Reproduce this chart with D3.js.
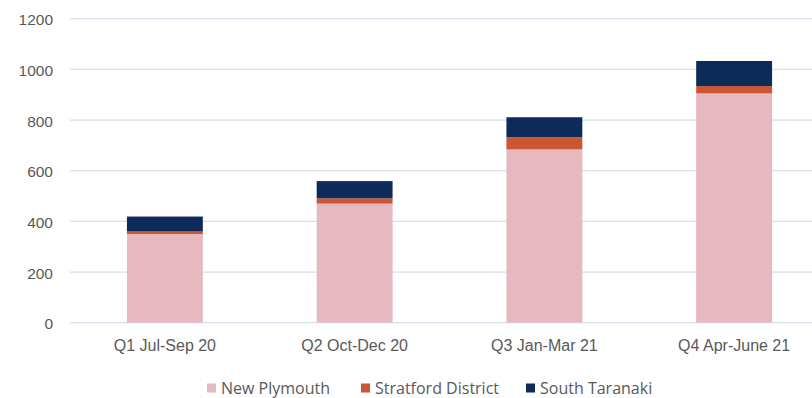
<!DOCTYPE html>
<html>
<head>
<meta charset="utf-8">
<script src="https://cdn.jsdelivr.net/npm/d3@7"></script>
<style>
  html, body { margin: 0; padding: 0; background: #fff; }
  svg { display: block; font-family: "Open Sans", "Noto Sans", sans-serif; }
</style>
</head>
<body>
<svg id="chart" width="812" height="398"></svg>
<script>
// Quarterly counts by district
const quarters = ["Q1 Jul-Sep 20", "Q2 Oct-Dec 20", "Q3 Jan-Mar 21", "Q4 Apr-June 21"];
const newPlymouth = [350, 470, 684, 905];
const stratford = [10, 21, 48, 29];
const southTaranaki = [59, 68, 79, 99];
const seriesNames = ["New Plymouth", "Stratford District", "South Taranaki"];
const seriesColors = ["#e5b9bf", "#cc5533", "#0c2b5b"];
const yTicks = [0, 200, 400, 600, 800, 1000, 1200];

const svg = d3.select("#chart");
const W = 812, H = 398;
const textColor = "#595959";

const x = d3.scaleBand().domain(quarters).range([70, 829]).paddingInner(0.6).paddingOuter(0.3);
const y = d3.scaleLinear().domain([0, 1200]).range([322.7, 18.7]);

// gridlines
svg.append("g")
  .selectAll("line")
  .data(yTicks)
  .join("line")
  .attr("x1", 70).attr("x2", W)
  .attr("y1", d => y(d)).attr("y2", d => y(d))
  .attr("stroke", "#d5dfea").attr("stroke-width", 1.3);

// y axis labels
const yAxis = d3.axisLeft(y).tickValues(yTicks).tickSize(0).tickPadding(0).tickFormat(d3.format("d"));
const gy = svg.append("g").attr("transform", "translate(53,1)").call(yAxis);
gy.select(".domain").remove();
gy.selectAll("text").attr("fill", textColor).style("font-size", "15.5px");

// stacked bars
const rows = quarters.map((q, i) => ({ q, a: newPlymouth[i], b: stratford[i], c: southTaranaki[i] }));
const stack = d3.stack().keys(["a", "b", "c"]);
const layers = stack(rows);

svg.append("g")
  .selectAll("g")
  .data(layers)
  .join("g")
  .attr("fill", (d, i) => seriesColors[i])
  .selectAll("rect")
  .data(d => d)
  .join("rect")
  .attr("x", d => x(d.data.q))
  .attr("width", x.bandwidth())
  .attr("y", d => y(d[1]))
  .attr("height", d => y(d[0]) - y(d[1]));

// x axis labels
const xAxis = d3.axisBottom(x).tickSize(0).tickPadding(0);
const gx = svg.append("g").attr("transform", "translate(0,340)").call(xAxis);
gx.select(".domain").remove();
gx.selectAll("text").attr("fill", textColor).style("font-size", "16px");

// legend
const legendX = [207, 361, 526];
const lg = svg.append("g").attr("transform", "translate(0,388)");
seriesNames.forEach((name, i) => {
  lg.append("rect").attr("x", legendX[i]).attr("y", -4.5).attr("width", 9).attr("height", 9).attr("fill", seriesColors[i]);
  lg.append("text").attr("x", legendX[i] + 14).attr("y", 0).attr("dy", "0.35em")
    .attr("fill", textColor).style("font-size", "16px").text(name);
});
</script>
</body>
</html>
